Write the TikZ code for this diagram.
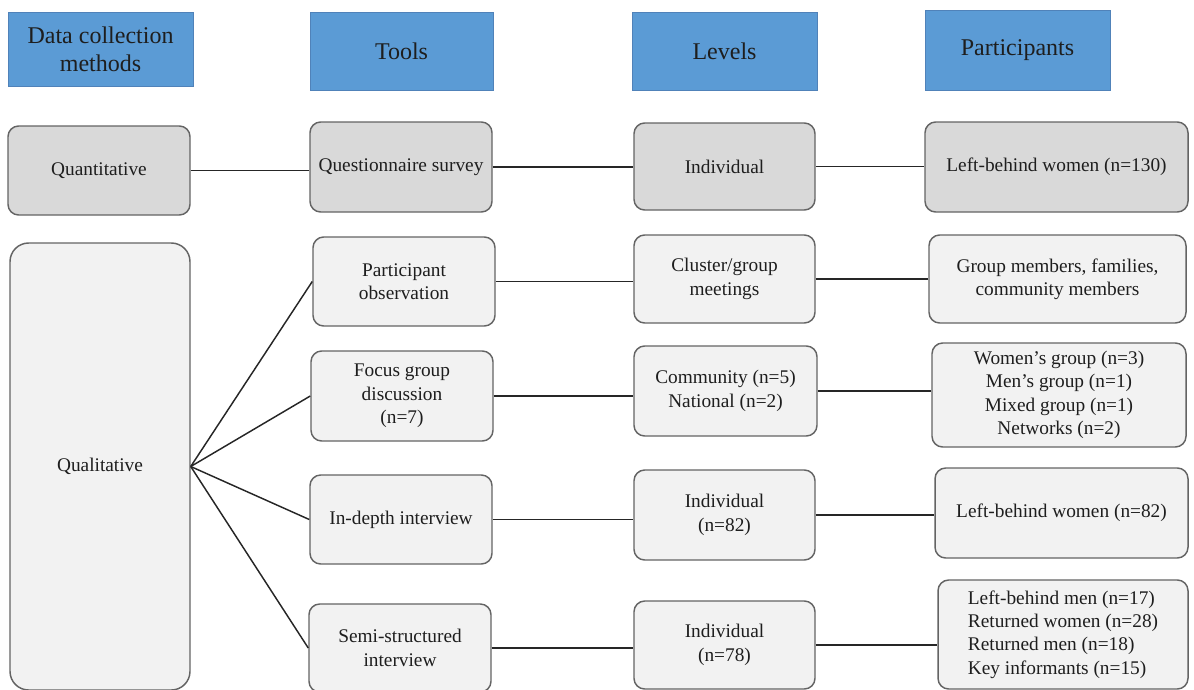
\documentclass[tikz,border=0pt]{standalone}
\usepackage{fontspec}
\setmainfont{Liberation Serif}
\usetikzlibrary{calc}

\definecolor{hdrblue}{RGB}{91,155,213}
\definecolor{hdredge}{RGB}{80,130,185}
\definecolor{boxgray}{RGB}{217,217,217}
\definecolor{boxlight}{RGB}{242,242,242}
\definecolor{boxedge}{RGB}{100,100,100}
\definecolor{txtdark}{RGB}{30,30,30}

\tikzset{
    sz/.style 2 args={minimum width=#1*0.75pt, minimum height=#2*0.75pt},
    hdr/.style={rectangle, draw=hdredge, line width=0.6pt, fill=hdrblue, inner sep=0pt, align=center, text=txtdark, font=\fontsize{18}{21}\selectfont},
    box/.style={rectangle, rounded corners=8pt, draw=boxedge, line width=1.1pt, fill=boxlight, inner sep=0pt, align=center, text=txtdark, font=\fontsize{14.5}{17.5}\selectfont},
    dark/.style={fill=boxgray},
    link/.style={draw=black!85, line width=1.1pt}
}

\begin{document}
\begin{tikzpicture}[x=0.75pt, y=-0.75pt]

        \useasboundingbox (0,0) rectangle (1194,689);

        %% Headers
        \node (hmeth) [hdr, sz={185}{74}] at (100.5,49) {Data collection\\methods};
        \node (htools) [hdr, sz={183}{78}] at (401.5,51) {Tools};
        \node (hlev) [hdr, sz={185}{78}] at (724.5,51) {Levels};
        \node (hpart) [hdr, sz={185}{80}] at (1017.5,50) {Participants};

        %% Quantitative row
        \node (quant) [box, dark, sz={182}{89}] at (99,170.5) {Quantitative};
        \node (quest) [box, dark, sz={182}{90}] at (401,167) {Questionnaire survey};
        \node (indiv) [box, dark, sz={181}{87}] at (724.5,166.5) {Individual};
        \node (lbw) [box, dark, sz={263}{90}] at (1056.5,167) {Left-behind women (n=130)};

        %% Qualitative
        \node (qual) [box, rounded corners=14pt, sz={180}{447}] at (100,466.5) {Qualitative};

        %% Tools
        \node (partobs) [box, sz={182}{89}] at (404,281.5) {Participant\\observation};
        \node (focus) [box, sz={182}{90}] at (402,396) {Focus group\\discussion\\(n=7)};
        \node (indepth) [box, sz={182}{89}] at (401,519.5) {In-depth interview};
        \node (semi) [box, sz={182}{88}] at (400,648) {Semi-structured\\interview};

        %% Levels
        \node (cluster) [box, sz={181}{88}] at (724.5,279) {Cluster/group\\meetings};
        \node (commun) [box, sz={183}{90}] at (725.5,391) {Community (n=5)\\National (n=2)};
        \node (indiva) [box, sz={181}{90}] at (724.5,515) {Individual\\(n=82)};
        \node (indivb) [box, sz={181}{88}] at (724.5,645) {Individual\\(n=78)};

        %% Participants
        \node (grpmem) [box, sz={257}{88}] at (1057.5,279) {Group members, families,\\community members};
        \node (womgrp) [box, sz={254}{104}] at (1059,395) {Women’s group (n=3)\\Men’s group (n=1)\\Mixed group (n=1)\\Networks (n=2)};
        \node (lbwb) [box, sz={253}{90}] at (1061.5,513) {Left-behind women (n=82)};
        \node (others) [box, sz={250}{109}, align=left] at (1063,634.5) {Left-behind men (n=17)\\Returned women (n=28)\\Returned men (n=18)\\Key informants (n=15)};

        %% Row links
        \draw [link] (quant.east) -- (quant.east -| quest.west);
        \draw [link] (quest.east) -- (quest.east -| indiv.west);
        \draw [link] (indiv.east) -- (indiv.east -| lbw.west);

        \draw [link] (partobs.east) -- (partobs.east -| cluster.west);
        \draw [link] (cluster.east) -- (cluster.east -| grpmem.west);
        \draw [link] (focus.east) -- (focus.east -| commun.west);
        \draw [link] (commun.east) -- (commun.east -| womgrp.west);
        \draw [link] (indepth.east) -- (indepth.east -| indiva.west);
        \draw [link] (indiva.east) -- (indiva.east -| lbwb.west);
        \draw [link] (semi.east) -- (semi.east -| indivb.west);
        \draw [link] (indivb.east) -- (indivb.east -| others.west);

        %% Fan out of qualitative
        \foreach \tool in {partobs, focus, indepth, semi}
            \draw [link] (qual.east) -- (\tool.west);

\end{tikzpicture}
\end{document}
